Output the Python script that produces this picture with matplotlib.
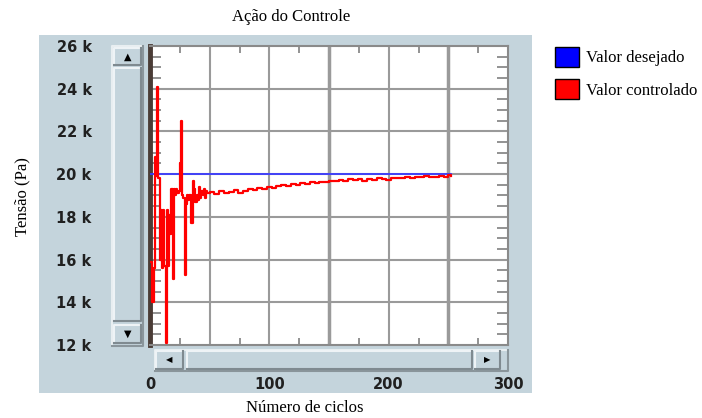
import matplotlib.pyplot as plt
from matplotlib.patches import Rectangle, Patch

# --- data ---
ciclos = [1, 2, 3, 4, 5, 6, 7, 8, 9, 10, 11, 12, 13, 14, 15, 16, 17, 18, 19, 20,
          21, 22, 23, 24, 25, 26, 27, 28, 29, 30, 31, 32, 33, 34, 35, 36, 37, 38,
          39, 40, 41, 42, 43, 44, 45, 46, 47, 48,
          50, 54, 58, 62, 66, 70, 74, 78, 82, 86, 90, 94, 98, 102, 106, 110, 114,
          118, 122, 126, 130, 134, 138, 142, 146, 150, 154, 158, 162, 166, 170,
          174, 178, 182, 186, 190, 194, 198, 202, 206, 210, 214, 218, 222, 226,
          230, 234, 238, 242, 246, 250, 252]
controlado = [15900, 14000, 15600, 20800, 19900, 24100, 19800, 16000, 18300, 15600,
              18300, 15700, 12100, 18300, 15700, 18100, 17200, 19300, 15100, 19300,
              19000, 19300, 19100, 19200, 20500, 22500, 19000, 18900, 15300, 18600,
              19000, 18800, 19000, 17700, 17700, 19700, 19300, 18700, 19000, 18800,
              19400, 18900, 19200, 19000, 19300, 18900, 19200, 19100,
              19150, 19050, 19200, 19100, 19150, 19250, 19100, 19200, 19300, 19250,
              19350, 19300, 19400, 19350, 19450, 19500, 19450, 19550, 19500, 19580,
              19550, 19620, 19600, 19650, 19620, 19700, 19660, 19720, 19700, 19760,
              19720, 19750, 19700, 19780, 19740, 19800, 19760, 19720, 19800, 19840,
              19800, 19850, 19820, 19880, 19860, 19900, 19850, 19880, 19920, 19860,
              19960, 19900]
desejado_x = [0, 252]
desejado = [20000, 20000]

xticks = [0, 100, 200, 300]
yticks = [12000, 14000, 16000, 18000, 20000, 22000, 24000, 26000]
ylabels = ["12 k", "14 k", "16 k", "18 k", "20 k", "22 k", "24 k", "26 k"]

W, H = 702, 418
BG = "#c4d4dc"

fig = plt.figure(figsize=(W / 100, H / 100), dpi=100)


def box(x0, y0, x1, y1, face=BG, light="#eef3f6", dark="#7f8a90", z=0):
    # rectangle given in figure pixels (y from the top), with a 3D edge
    fig.add_artist(Rectangle((x0 / W, 1 - y1 / H), (x1 - x0) / W, (y1 - y0) / H,
                             transform=fig.transFigure, facecolor=face,
                             edgecolor="none", zorder=z))
    if light:
        fig.add_artist(plt.Line2D([x0 / W, x0 / W, x1 / W], [1 - y1 / H, 1 - y0 / H, 1 - y0 / H],
                                  transform=fig.transFigure, color=light, lw=1.5, zorder=z + 0.1))
        fig.add_artist(plt.Line2D([x0 / W, x1 / W, x1 / W], [1 - y1 / H, 1 - y1 / H, 1 - y0 / H],
                                  transform=fig.transFigure, color=dark, lw=1.5, zorder=z + 0.1))


# panel background
box(39, 35, 532, 393, light=None, z=-10)

ax = fig.add_axes([150 / W, 1 - 345 / H, 358 / W, 299 / H])
ax.set_facecolor("white")
ax.plot(desejado_x, desejado, color="#3a3aff", lw=1.3, zorder=3)
ax.plot(ciclos, controlado, color="red", lw=1.6, drawstyle="steps-post", zorder=4)

ax.set_xlim(0, 300)
ax.set_ylim(12000, 26000)
ax.set_xticks(xticks)
ax.set_xticklabels([str(t) for t in xticks])
ax.set_yticks(yticks)
ax.set_yticklabels(ylabels)
ax.set_xticks(range(25, 300, 50), minor=True)
ax.set_yticks(range(12000, 26001, 500), minor=True)

for gx in range(50, 300, 50):
    ax.axvline(gx, color="#9a9a9a", lw=2.5 if gx in (150, 250) else 1.5, zorder=1)
for gy in yticks[1:-1]:
    ax.axhline(gy, color="#9a9a9a", lw=1.5, zorder=1)

ax.tick_params(which="major", length=0)
ax.tick_params(axis="x", which="major", pad=23, labelsize=10.5)
ax.tick_params(axis="y", which="major", pad=42, labelsize=10.5)
ax.tick_params(which="minor", direction="in", color="#8a8a8a", width=1.3,
               top=True, right=True, left=True, bottom=True)
ax.tick_params(axis="y", which="minor", length=8)
ax.tick_params(axis="x", which="minor", length=5)
for lab in ax.get_xticklabels() + ax.get_yticklabels():
    lab.set_fontweight("bold")
    lab.set_color("#202020")

for s in ["top", "right", "bottom"]:
    ax.spines[s].set_color("#8a8a8a")
    ax.spines[s].set_linewidth(1.5)
ax.spines["left"].set_color("#4a3c36")
ax.spines["left"].set_linewidth(3.5)

# vertical scrollbar
box(112, 46, 143, 346, face=BG, light="#e8eef1", dark="#8a959b")
box(114, 48, 141, 65)
box(114, 68, 141, 321)
box(114, 325, 141, 343)
fig.text(127.5 / W, 1 - 57 / H, "▲", ha="center", va="center", fontsize=7)
fig.text(127.5 / W, 1 - 334 / H, "▼", ha="center", va="center", fontsize=7)

# horizontal scrollbar
box(155, 350, 508, 371, face=BG, light="#e8eef1", dark="#8a959b")
box(156, 351, 183, 369)
box(187, 351, 472, 369)
box(475, 351, 500, 369)
fig.text(169.5 / W, 1 - 360 / H, "◀", ha="center", va="center", fontsize=6)
fig.text(487.5 / W, 1 - 360 / H, "▶", ha="center", va="center", fontsize=6)

serif = "Liberation Serif"
fig.text(291 / W, 1 - 17 / H, "Ação do Controle", ha="center", va="center",
         family=serif, fontsize=12)
fig.text(305 / W, 1 - 408 / H, "Número de ciclos", ha="center", va="center",
         family=serif, fontsize=12)
fig.text(22 / W, 1 - 197 / H, "Tensão (Pa)", ha="center", va="center",
         rotation=90, family=serif, fontsize=12)

handles = [Patch(facecolor="#0000ff", edgecolor="black", label="Valor desejado"),
           Patch(facecolor="red", edgecolor="black", label="Valor controlado")]
fig.legend(handles=handles, loc="upper left", bbox_to_anchor=(540 / W, 1 - 32 / H),
           frameon=False, prop={"family": serif, "size": 12},
           handlelength=1.45, handleheight=1.45, handletextpad=0.4, labelspacing=0.75)

fig.savefig("out.png", dpi=100)
